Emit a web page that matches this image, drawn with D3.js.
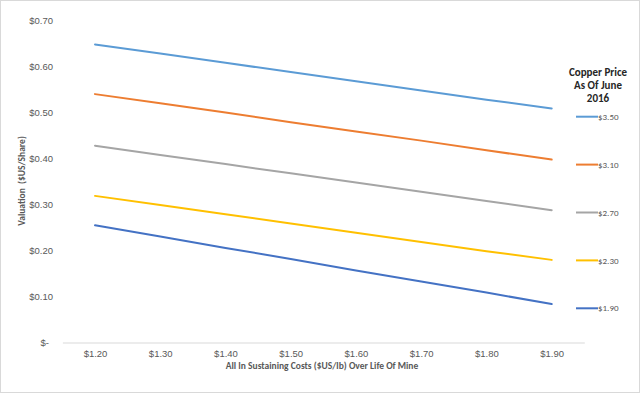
<!DOCTYPE html>
<html>
<head>
<meta charset="utf-8">
<script src="https://cdn.jsdelivr.net/npm/d3@7"></script>
<style>
  body { margin: 0; background: #fff; }
  svg { display: block; font-family: Carlito, Lato, "Open Sans", sans-serif; }
</style>
</head>
<body>
<div id="chart"></div>
<script>
// all in sustaining cost per lb (x categories)
var costs = [1.20, 1.30, 1.40, 1.50, 1.60, 1.70, 1.80, 1.90];
// copper price scenarios (legend)
var copperPrices = ['$3.50', '$3.10', '$2.70', '$2.30', '$1.90'];
// valuation per share, one array per copper price
var val350 = [0.647, 0.627, 0.607, 0.587, 0.567, 0.547, 0.527, 0.508];
var val310 = [0.539, 0.519, 0.499, 0.478, 0.458, 0.438, 0.417, 0.397];
var val270 = [0.427, 0.407, 0.387, 0.367, 0.347, 0.327, 0.307, 0.287];
var val230 = [0.318, 0.298, 0.278, 0.258, 0.238, 0.218, 0.198, 0.179];
var val190 = [0.254, 0.230, 0.205, 0.181, 0.156, 0.132, 0.108, 0.083];
var yTicks = [0, 0.1, 0.2, 0.3, 0.4, 0.5, 0.6, 0.7];

var seriesValues = [val350, val310, val270, val230, val190];
var colors = ['#5B9BD5', '#ED7D31', '#A5A5A5', '#FFC000', '#4472C4'];

const width = 640, height = 393;
var svg = d3.select('#chart')
    .append('svg')
    .attr('width', width)
    .attr('height', height);

// chart border
svg.append('rect')
    .attr('x', 0.5).attr('y', 0.5)
    .attr('width', width - 1).attr('height', height - 1)
    .attr('fill', '#fff')
    .attr('stroke', '#d9d9d9');

var x = d3.scalePoint()
    .domain(costs)
    .range([62.4, 584.3])
    .padding(0.5);
var y = d3.scaleLinear()
    .domain([0, 0.7])
    .range([342.3, 20]);

// x axis
var xAxis = svg.append('g')
    .attr('transform', 'translate(0,' + 342.5 + ')')
    .call(d3.axisBottom(x).tickSize(0).tickPadding(8).tickFormat(function(d){ return '$' + d.toFixed(2); }));
xAxis.select('.domain').attr('stroke', '#d9d9d9');
xAxis.selectAll('text')
    .attr('fill', '#595959')
    .style('font-size', '9.5px');

// y axis (labels only)
var yAxis = svg.append('g')
    .attr('transform', 'translate(53,0)')
    .call(d3.axisLeft(y).tickValues(yTicks).tickSize(0).tickPadding(0)
        .tickFormat(function(d){ return d === 0 ? '$-' : '$' + d.toFixed(2); }));
yAxis.select('.domain').remove();
yAxis.selectAll('text')
    .attr('fill', '#595959')
    .style('font-size', '9.5px')
    .attr('dx', function(d){ return d === 0 ? -4 : 0; });

// lines
var line = d3.line()
    .x(function(d, i){ return x(costs[i]); })
    .y(function(d){ return y(d); });
svg.selectAll('path.series')
    .data(seriesValues)
    .enter()
    .append('path')
    .attr('class', 'series')
    .attr('d', line)
    .attr('fill', 'none')
    .attr('stroke', function(d, i){ return colors[i]; })
    .attr('stroke-width', 2)
    .attr('stroke-linecap', 'round');

// axis titles
svg.append('text')
    .attr('x', 322).attr('y', 369)
    .attr('text-anchor', 'middle')
    .attr('fill', '#595959')
    .style('font-size', '9.5px')
    .style('font-weight', 'bold')
    .text('All In Sustaining Costs ($US/lb) Over Life Of Mine');
svg.append('text')
    .attr('transform', 'translate(25,181) rotate(-90)')
    .attr('text-anchor', 'middle')
    .attr('fill', '#595959')
    .style('font-size', '9.5px')
    .style('font-weight', 'bold')
    .style('white-space', 'pre')
    .text('Valuation  ($US/Share)');

// legend
var legendTitle = svg.append('text')
    .attr('x', 598)
    .attr('text-anchor', 'middle')
    .attr('fill', '#262626')
    .style('font-size', '11px')
    .style('font-weight', 'bold');
['Copper Price', 'As Of June', '2016'].forEach(function(t, i){
    legendTitle.append('tspan').attr('x', 598).attr('y', 75.5 + i * 13.3).text(t);
});

var ly = d3.scalePoint()
    .domain(copperPrices)
    .range([116.7, 308.3]);
var items = svg.selectAll('g.legend')
    .data(copperPrices)
    .enter()
    .append('g')
    .attr('class', 'legend')
    .attr('transform', function(d){ return 'translate(0,' + ly(d) + ')'; });
items.append('line')
    .attr('x1', 576).attr('x2', 598)
    .attr('stroke', function(d, i){ return colors[i]; })
    .attr('stroke-width', 2);
items.append('text')
    .attr('x', 598).attr('dy', '0.35em')
    .attr('fill', '#595959')
    .style('font-size', '9px')
    .text(function(d){ return d; });
</script>
</body>
</html>
